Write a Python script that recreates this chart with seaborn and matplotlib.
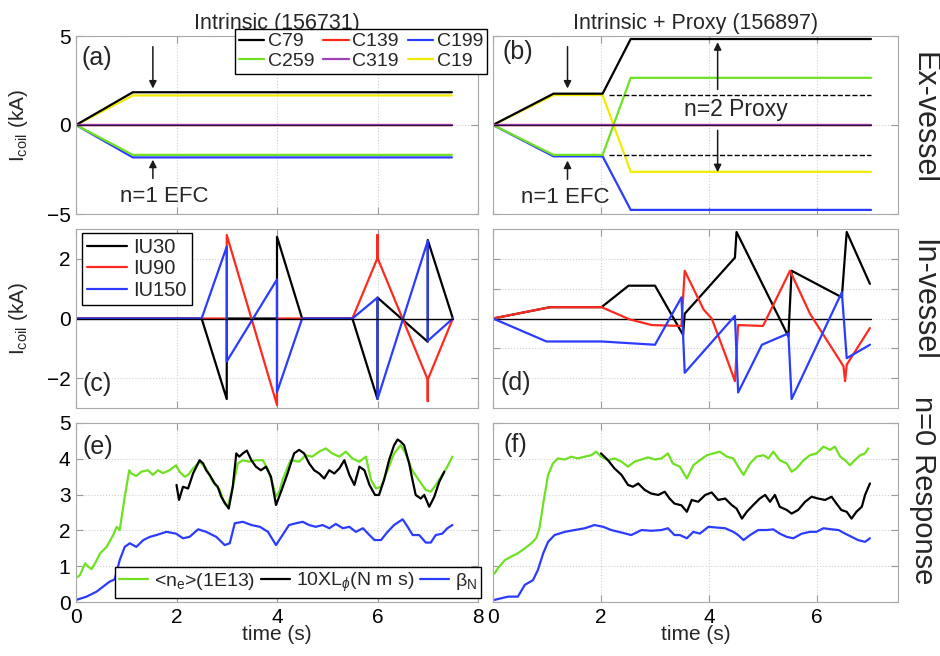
import matplotlib
matplotlib.use("Agg")
import matplotlib.pyplot as plt
from matplotlib.lines import Line2D
import seaborn as sns

# ---------------- ex-vessel coil currents (kA) ----------------
t_a = [0.0, 1.13, 7.48]
a_C79 = [0.0, 1.84, 1.84]
a_C139 = [0.0, 0.0, 0.0]
a_C199 = [0.0, -1.82, -1.82]
a_C259 = [0.0, -1.68, -1.68]
a_C319 = [0.0, 0.0, 0.0]
a_C19 = [0.0, 1.66, 1.66]

t_b = [0.0, 1.12, 2.03, 2.55, 7.0]
b_C79 = [0.0, 1.76, 1.76, 4.83, 4.83]
b_C139 = [0.0, 0.0, 0.0, 0.0, 0.0]
b_C199 = [0.0, -1.76, -1.76, -4.77, -4.77]
b_C259 = [0.0, -1.68, -1.68, 2.65, 2.65]
b_C319 = [0.0, 0.0, 0.0, 0.0, 0.0]
b_C19 = [0.0, 1.68, 1.68, -2.63, -2.63]
efc_level_t = [2.15, 7.0]
efc_level = 1.7

coil_names = ["C79", "C139", "C199", "C259", "C319", "C19"]
coil_colors = ["#000000", "#ff2a1f", "#2b3cff", "#6fe022", "#a040c0", "#f0ec00"]

# ---------------- in-vessel coil currents (kA) ----------------
c_t30 = [0, 2.5, 3.0, 3.0, 4.0, 4.0, 4.5, 5.5, 6.0, 6.0, 7.0, 7.0, 7.5]
c_IU30 = [0, 0, -2.7, 0, 0, 2.74, 0, 0, -2.7, 0.7, -0.78, 2.63, 0]
c_t90 = [0, 3.0, 3.0, 4.0, 4.0, 5.5, 6.0, 6.0, 6.0, 7.0, 7.0, 7.0, 7.5]
c_IU90 = [0, 0, 2.8, -2.9, 0, 0, 2.03, 2.8, 2.03, -2.05, -2.77, -2.05, 0]
c_t150 = [0, 2.5, 3.0, 3.0, 4.0, 4.0, 4.5, 5.5, 6.0, 6.0, 7.0, 7.0, 7.5]
c_IU150 = [0, 0, 2.41, -1.44, 1.31, -2.47, 0, 0, 0.7, -2.7, 2.6, -0.75, 0]

d_t30 = [0, 1.06, 2.01, 2.51, 3.0, 3.52, 3.55, 4.48, 4.51, 5.47, 5.53, 6.46, 6.55, 6.98]
d_IU30 = [0, 0.38, 0.38, 1.1, 1.1, -0.55, 0.16, 2.04, 2.9, -0.6, 1.6, 0.71, 2.9, 1.16]
d_t90 = [0, 1.06, 2.01, 2.53, 2.94, 3.49, 3.55, 3.9, 4.05, 4.3, 4.48, 4.54, 5.0, 5.5,
         5.87, 6.49, 6.52, 6.55, 6.98]
d_IU90 = [0, 0.38, 0.38, -0.03, -0.22, -0.25, 1.6, 0.3, 0.0, -1.2, -2.1, -0.22, -0.25, 1.6,
          0.16, -1.6, -2.1, -1.55, -0.32]
d_t150 = [0, 0.99, 2.01, 3.0, 3.49, 3.55, 4.48, 4.54, 4.98, 5.47, 5.53, 6.46, 6.55, 6.98]
d_IU150 = [0, -0.77, -0.77, -0.88, 0.71, -1.82, 0.09, -2.48, -0.88, -0.5, -2.7, 0.88, -1.33, -0.88]

iu_names = ["IU30", "IU90", "IU150"]
iu_colors = ["#000000", "#ff2a1f", "#2b3cff"]

# ---------------- n=0 response ----------------
e_t_ne = [0.03, 0.08, 0.18, 0.24, 0.31, 0.38, 0.48, 0.61, 0.74, 0.81, 0.87, 0.97, 1.06, 1.10,
          1.20, 1.30, 1.43, 1.53, 1.63, 1.73, 1.86, 1.99, 2.06, 2.16, 2.23, 2.33, 2.46, 2.59,
          2.72, 2.86, 2.96, 3.02, 3.12, 3.22, 3.32, 3.45, 3.58, 3.72, 3.82, 3.90, 3.98, 4.05,
          4.11, 4.27, 4.44, 4.57, 4.70, 4.84, 4.97, 5.10, 5.24, 5.37, 5.50, 5.64, 5.77, 5.87,
          5.97, 6.07, 6.20, 6.33, 6.46, 6.56, 6.69, 6.82, 6.96, 7.06, 7.16, 7.29, 7.39, 7.49]
e_ne = [0.70, 0.75, 1.08, 0.99, 0.92, 1.08, 1.36, 1.54, 1.87, 2.10, 2.01, 2.94, 3.68, 3.59,
        3.52, 3.64, 3.68, 3.55, 3.68, 3.60, 3.68, 3.82, 3.64, 3.50, 3.55, 3.73, 3.92, 3.73,
        3.36, 3.13, 2.75, 2.66, 3.22, 3.87, 3.96, 3.92, 3.96, 3.96, 3.70, 3.35, 2.95, 3.10,
        3.41, 3.96, 3.92, 4.10, 4.06, 4.20, 4.29, 4.15, 4.06, 4.20, 4.01, 3.92, 4.06, 3.41,
        3.17, 3.22, 3.68, 4.15, 4.38, 4.15, 3.68, 3.41, 3.13, 3.08, 3.27, 3.55, 3.78, 4.06]

e_t_L = [2.00, 2.05, 2.13, 2.23, 2.33, 2.46, 2.53, 2.59, 2.66, 2.76, 2.82, 2.89, 2.96, 3.04,
         3.12, 3.19, 3.25, 3.32, 3.40, 3.49, 3.58, 3.68, 3.78, 3.88, 3.98, 4.08, 4.21, 4.34,
         4.44, 4.54, 4.64, 4.74, 4.84, 4.94, 5.04, 5.14, 5.24, 5.34, 5.44, 5.54, 5.64, 5.74,
         5.84, 5.95, 6.03, 6.13, 6.23, 6.33, 6.40, 6.46, 6.53, 6.63, 6.69, 6.76, 6.86, 6.93,
         7.03, 7.13, 7.23, 7.33]
e_L = [3.27, 2.85, 3.22, 3.17, 3.59, 3.96, 3.87, 3.68, 3.55, 3.31, 3.22, 2.94, 2.77, 2.61,
       3.22, 4.15, 4.06, 4.15, 4.23, 3.96, 3.78, 3.68, 3.78, 3.50, 2.71, 3.08, 3.59, 4.15,
       4.25, 4.15, 3.87, 3.68, 3.59, 3.45, 3.68, 3.59, 3.73, 3.96, 3.55, 3.27, 3.78, 3.68,
       3.27, 2.99, 2.99, 3.41, 3.96, 4.38, 4.54, 4.48, 4.38, 3.87, 3.45, 2.99, 2.89, 2.99,
       2.66, 2.94, 3.36, 3.64]

e_t_beta = [0.01, 0.21, 0.41, 0.54, 0.67, 0.77, 0.87, 0.97, 1.07, 1.20, 1.34, 1.47, 1.60, 1.80,
            1.99, 2.13, 2.26, 2.43, 2.59, 2.79, 2.96, 3.06, 3.16, 3.32, 3.49, 3.66, 3.82, 3.98,
            4.11, 4.24, 4.38, 4.51, 4.64, 4.77, 4.91, 5.04, 5.17, 5.31, 5.44, 5.57, 5.71, 5.84,
            5.94, 6.07, 6.20, 6.33, 6.50, 6.60, 6.70, 6.83, 6.96, 7.06, 7.16, 7.29, 7.39, 7.49]
e_beta = [0.06, 0.15, 0.29, 0.43, 0.57, 0.63, 1.17, 1.54, 1.64, 1.54, 1.73, 1.82, 1.87, 1.96,
          1.91, 1.78, 1.82, 2.03, 1.96, 1.82, 1.59, 1.64, 2.20, 2.24, 2.15, 2.10, 1.96, 1.59,
          1.87, 2.15, 2.20, 2.24, 2.15, 2.10, 2.15, 2.06, 2.18, 2.06, 2.10, 1.96, 2.06, 1.87,
          1.73, 1.73, 1.96, 2.15, 2.31, 2.10, 1.87, 1.87, 1.66, 1.66, 1.87, 1.91, 2.06, 2.15]

f_t_ne = [0.03, 0.09, 0.22, 0.34, 0.46, 0.59, 0.71, 0.80, 0.86, 0.93, 1.02, 1.11, 1.20, 1.33,
          1.45, 1.57, 1.70, 1.82, 1.91, 2.00, 2.13, 2.25, 2.38, 2.50, 2.62, 2.75, 2.87, 3.00,
          3.12, 3.24, 3.33, 3.46, 3.59, 3.71, 3.83, 3.96, 4.08, 4.20, 4.33, 4.45, 4.54, 4.64,
          4.76, 4.88, 5.01, 5.10, 5.19, 5.31, 5.44, 5.53, 5.62, 5.75, 5.87, 5.99, 6.12, 6.24,
          6.33, 6.43, 6.52, 6.61, 6.70, 6.80, 6.89, 6.95]
f_ne = [0.80, 0.94, 1.17, 1.27, 1.36, 1.50, 1.64, 1.78, 2.06, 2.75, 3.55, 3.87, 4.01, 3.98,
        4.06, 4.01, 4.06, 4.10, 4.20, 4.06, 3.96, 4.01, 3.92, 3.78, 3.92, 3.98, 4.04, 3.98,
        4.01, 4.15, 3.87, 3.78, 3.45, 3.82, 3.96, 4.10, 4.15, 4.20, 4.06, 4.01, 3.78, 3.55,
        3.87, 4.06, 4.10, 4.01, 4.20, 3.96, 3.87, 3.64, 3.73, 3.96, 4.10, 4.15, 4.34, 4.25,
        4.34, 4.06, 3.96, 3.82, 3.96, 4.10, 4.15, 4.29]

f_t_L = [2.00, 2.13, 2.25, 2.38, 2.50, 2.59, 2.69, 2.81, 2.93, 3.06, 3.18, 3.27, 3.36, 3.49,
         3.59, 3.68, 3.80, 3.93, 4.05, 4.17, 4.30, 4.42, 4.51, 4.61, 4.70, 4.82, 4.94, 5.04,
         5.13, 5.22, 5.31, 5.44, 5.53, 5.65, 5.78, 5.90, 6.02, 6.15, 6.27, 6.36, 6.45, 6.55,
         6.64, 6.73, 6.83, 6.89, 6.98]
f_L = [4.15, 3.96, 3.73, 3.55, 3.27, 3.22, 3.31, 3.13, 3.03, 2.99, 3.08, 2.89, 2.75, 2.70,
       2.52, 2.85, 2.80, 2.99, 3.06, 2.85, 2.89, 2.71, 2.61, 2.33, 2.52, 2.71, 2.89, 2.99,
       2.80, 2.99, 2.66, 2.57, 2.47, 2.57, 2.80, 2.94, 2.89, 2.85, 2.94, 2.75, 2.57, 2.52,
       2.33, 2.52, 2.66, 2.99, 3.31]

f_t_beta = [0.03, 0.28, 0.46, 0.59, 0.74, 0.83, 0.93, 1.02, 1.14, 1.33, 1.51, 1.70, 1.88, 2.04,
            2.19, 2.38, 2.56, 2.75, 2.93, 3.12, 3.24, 3.36, 3.46, 3.59, 3.71, 3.83, 3.99, 4.14,
            4.30, 4.45, 4.54, 4.64, 4.76, 4.91, 5.07, 5.19, 5.31, 5.44, 5.56, 5.72, 5.87, 5.99,
            6.12, 6.27, 6.40, 6.52, 6.64, 6.76, 6.89, 6.98]
f_beta = [0.06, 0.15, 0.15, 0.48, 0.61, 0.89, 1.36, 1.68, 1.87, 1.96, 2.01, 2.06, 2.15, 2.10,
          2.01, 1.94, 1.87, 2.01, 1.99, 2.01, 2.06, 1.87, 1.87, 1.78, 1.96, 1.91, 2.10, 2.08,
          2.06, 1.96, 1.87, 1.73, 1.87, 2.01, 2.01, 2.03, 1.91, 1.82, 1.78, 1.91, 1.96, 1.96,
          2.06, 2.03, 2.01, 1.91, 1.82, 1.73, 1.68, 1.78]

resp_labels = ["<n$_{\\rm e}$>(1E13)", "10XL$_{\\phi}$(N m s)", "\u03b2$_{\\rm N}$"]
resp_colors = ["#6fe022", "#000000", "#2b3cff"]

# ---------------- style ----------------
sns.set_theme(style="white")
FONT = ["Liberation Sans", "DejaVu Sans"]
plt.rcParams["font.family"] = FONT
plt.rcParams["mathtext.fontset"] = "custom"
plt.rcParams["mathtext.rm"] = "Liberation Sans"
plt.rcParams["mathtext.it"] = "Liberation Sans:italic"
plt.rcParams["mathtext.sf"] = "Liberation Sans"
plt.rcParams["axes.unicode_minus"] = True

W, H = 940, 656
fig = plt.figure(figsize=(W / 100, H / 100), dpi=100)
fig.patch.set_facecolor("white")


def panel(x0, x1, top, bottom):
    return fig.add_axes([x0 / W, 1 - bottom / H, (x1 - x0) / W, (bottom - top) / H])


ax_a = panel(76, 478, 36, 214)
ax_b = panel(493, 898, 36, 214)
ax_c = panel(76, 478, 229, 408)
ax_d = panel(493, 898, 229, 408)
ax_e = panel(76, 478, 423, 602)
ax_f = panel(493, 898, 423, 602)
# left-column legends spill over the gap, so keep those panels on top
for ax in (ax_a, ax_c, ax_e):
    ax.set_zorder(3)

LW = 1.6
TICK_FS = 15
LABEL_FS = 15


def trace(ax, t, v, color, lw=LW, **kw):
    sns.lineplot(x=t, y=v, ax=ax, color=color, linewidth=lw, sort=False,
                 estimator=None, legend=False, **kw)


def arrow(ax, x, y_tail, y_tip):
    ax.annotate("", xy=(x, y_tip), xytext=(x, y_tail),
                arrowprops=dict(arrowstyle="-|>", color="k", lw=1.1,
                                mutation_scale=11, shrinkA=0, shrinkB=0))


def framed(leg):
    leg.get_frame().set_edgecolor("black")
    leg.get_frame().set_linewidth(1.0)


def style(ax, xmax, ylim, yticks, xticks, show_x, show_y):
    ax.set_xlim(0, xmax)
    ax.set_ylim(*ylim)
    ax.set_yticks(yticks)
    ax.set_xticks(xticks)
    ax.set_facecolor("white")
    ax.grid(True, linestyle=":", color="#cfcfcf", linewidth=0.8)
    ax.set_axisbelow(True)
    for sp in ax.spines.values():
        sp.set_visible(True)
        sp.set_color("#a8a8a8")
        sp.set_linewidth(0.8)
    ax.tick_params(direction="in", length=5, width=0.8, color="#9a9a9a",
                   top=True, right=True, bottom=True, left=True,
                   labelsize=TICK_FS, pad=4, labelcolor="black")
    if not show_x:
        ax.set_xticklabels([])
    if not show_y:
        ax.set_yticklabels([])
    ax.set_xlabel("")
    ax.set_ylabel("")


def zero_pair(ax, t, red, purple):
    # C139 and C319 overlap on the zero line
    trace(ax, t, red, coil_colors[1])
    trace(ax, t, purple, coil_colors[4])
    trace(ax, t, [0.0] * len(t), "#2a0f33", lw=0.9)


# (a) ex-vessel, intrinsic
trace(ax_a, t_a, a_C19, coil_colors[5])
trace(ax_a, t_a, a_C79, coil_colors[0])
trace(ax_a, t_a, a_C199, coil_colors[2])
trace(ax_a, t_a, a_C259, coil_colors[3])
zero_pair(ax_a, t_a, a_C139, a_C319)
style(ax_a, 8, (-5, 5), [-5, 0, 5], [0, 2, 4, 6, 8], False, True)
arrow(ax_a, 1.53, 4.4, 2.05)
arrow(ax_a, 1.53, -3.0, -1.95)
ax_a.text(1.75, -4.0, "n=1 EFC", fontsize=16, ha="center", va="center")
ax_a.text(0.42, 3.78, "(a)", fontsize=18, ha="center", va="center")
ax_a.set_title("Intrinsic (156731)", fontsize=15.5, pad=5)
ax_a.set_ylabel("I$_{\\rm coil}$ (kA)", fontsize=LABEL_FS)
ax_a.yaxis.set_label_coords(-0.115, 0.5)

# legend laid out row by row: C79 C139 C199 / C259 C319 C19
order = [0, 3, 1, 4, 2, 5]
coil_handles = [Line2D([], [], color=coil_colors[i], lw=LW) for i in order]
leg = ax_a.legend(coil_handles, [coil_names[i] for i in order], ncol=3, loc="upper left",
                  bbox_to_anchor=(235 / W, 1 - 29 / H), bbox_transform=fig.transFigure,
                  fontsize=14, handlelength=1.3, handletextpad=0.2, columnspacing=0.45,
                  labelspacing=0.1, borderpad=0.2, borderaxespad=0, frameon=True,
                  fancybox=False, framealpha=1)
framed(leg)

# (b) ex-vessel, intrinsic + proxy
trace(ax_b, t_b, b_C19, coil_colors[5])
trace(ax_b, t_b, b_C79, coil_colors[0])
trace(ax_b, t_b, b_C199, coil_colors[2])
trace(ax_b, t_b, b_C259, coil_colors[3])
zero_pair(ax_b, t_b, b_C139, b_C319)
for s in (1, -1):
    trace(ax_b, efc_level_t, [s * efc_level] * 2, "black", lw=1.0, linestyle="--")
style(ax_b, 7.5, (-5, 5), [-5, 0, 5], [0, 2, 4, 6], False, False)
arrow(ax_b, 1.38, 4.4, 2.05)
arrow(ax_b, 1.38, -3.05, -2.0)
arrow(ax_b, 4.16, 2.0, 4.65)
arrow(ax_b, 4.16, -0.3, -2.65)
ax_b.text(4.5, 0.88, "n=2 Proxy", fontsize=16.5, ha="center", va="center")
ax_b.text(1.33, -4.05, "n=1 EFC", fontsize=16, ha="center", va="center")
ax_b.text(0.46, 4.1, "(b)", fontsize=18, ha="center", va="center")
ax_b.set_title("Intrinsic + Proxy (156897)", fontsize=15.5, pad=5)

# (c) in-vessel, intrinsic
trace(ax_c, c_t30, c_IU30, iu_colors[0])
trace(ax_c, c_t90, c_IU90, iu_colors[1])
trace(ax_c, c_t150, c_IU150, iu_colors[2])
trace(ax_c, [0, 7.5], [0, 0], "black", lw=1.0)
style(ax_c, 8, (-3, 3), [-2, 0, 2], [0, 2, 4, 6, 8], False, True)
ax_c.text(0.42, -2.2, "(c)", fontsize=18, ha="center", va="center")
ax_c.set_ylabel("I$_{\\rm coil}$ (kA)", fontsize=LABEL_FS)
ax_c.yaxis.set_label_coords(-0.115, 0.5)
iu_handles = [Line2D([], [], color=c, lw=LW) for c in iu_colors]
leg = ax_c.legend(iu_handles, iu_names, loc="upper left",
                  bbox_to_anchor=(82 / W, 1 - 233 / H), bbox_transform=fig.transFigure,
                  fontsize=14.5, handlelength=2.0, handletextpad=0.3, labelspacing=0.12,
                  borderpad=0.25, borderaxespad=0, fancybox=False, framealpha=1)
framed(leg)

# (d) in-vessel, intrinsic + proxy
trace(ax_d, [0, 7.0], [0, 0], "black", lw=1.0)
trace(ax_d, d_t30, d_IU30, iu_colors[0])
trace(ax_d, d_t90, d_IU90, iu_colors[1])
trace(ax_d, d_t150, d_IU150, iu_colors[2])
style(ax_d, 7.5, (-3, 3), [-2, -1, 0, 1, 2], [0, 2, 4, 6], False, False)
ax_d.text(0.42, -2.15, "(d)", fontsize=18, ha="center", va="center")

# (e) n=0 response, intrinsic
trace(ax_e, e_t_ne, e_ne, resp_colors[0])
trace(ax_e, e_t_L, e_L, resp_colors[1])
trace(ax_e, e_t_beta, e_beta, resp_colors[2])
style(ax_e, 8, (0, 5), [0, 1, 2, 3, 4, 5], [0, 2, 4, 6, 8], True, True)
ax_e.text(0.44, 4.33, "(e)", fontsize=18, ha="center", va="center")
ax_e.set_xlabel("time (s)", fontsize=LABEL_FS, labelpad=-1)
resp_handles = [Line2D([], [], color=c, lw=LW) for c in resp_colors]
leg = ax_e.legend(resp_handles, resp_labels, ncol=3, loc="upper left",
                  bbox_to_anchor=(115 / W, 1 - 567 / H), bbox_transform=fig.transFigure,
                  fontsize=14, handlelength=1.5, handletextpad=0.3, columnspacing=0.3,
                  borderpad=0.2, borderaxespad=0, fancybox=False, framealpha=1)
framed(leg)

# (f) n=0 response, intrinsic + proxy
trace(ax_f, f_t_ne, f_ne, resp_colors[0])
trace(ax_f, f_t_L, f_L, resp_colors[1])
trace(ax_f, f_t_beta, f_beta, resp_colors[2])
style(ax_f, 7.5, (0, 5), [0, 1, 2, 3, 4, 5], [0, 2, 4, 6], True, False)
ax_f.text(0.41, 4.38, "(f)", fontsize=18, ha="center", va="center")
ax_f.set_xlabel("time (s)", fontsize=LABEL_FS, labelpad=-1)

# row labels on the right
fig.text(923 / W, 1 - 118 / H, "Ex-vessel", rotation=270, fontsize=22, ha="center", va="center")
fig.text(923 / W, 1 - 300 / H, "In-vessel", rotation=270, fontsize=22, ha="center", va="center")
fig.text(923 / W, 1 - 490 / H, "n=0 Response", rotation=270, fontsize=21, ha="center", va="center")

fig.savefig("out.png", dpi=100, facecolor="white")
